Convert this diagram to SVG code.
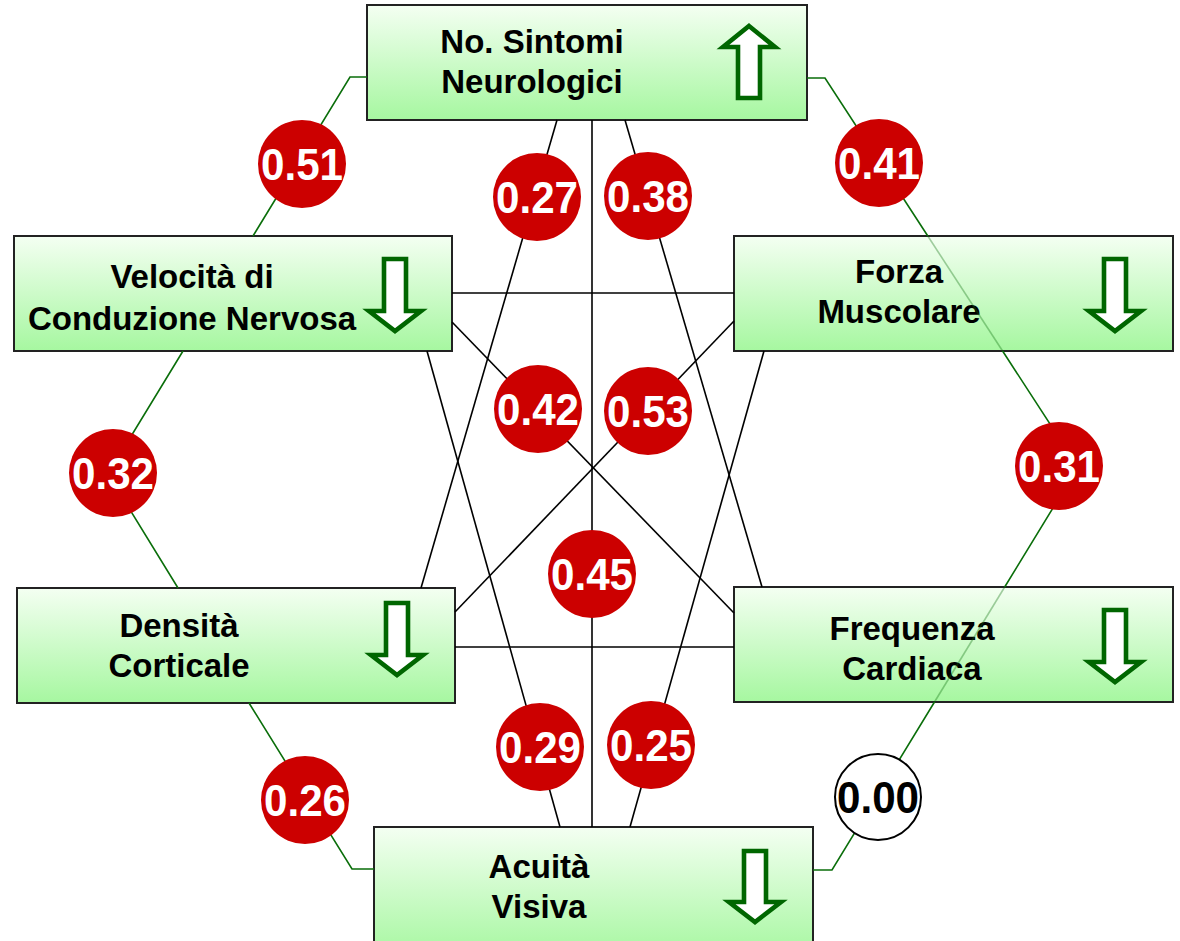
<svg xmlns="http://www.w3.org/2000/svg" width="1180" height="941" viewBox="0 0 1180 941">
<defs>
<linearGradient id="boxfill" x1="0" y1="0" x2="0" y2="1">
<stop offset="0" stop-color="#f4fff2"/>
<stop offset="1" stop-color="#a6f7a0"/>
</linearGradient>
<style>
.box{fill:url(#boxfill);stroke:#222;stroke-width:2}
.lbl{font-family:"Liberation Sans",Arial,sans-serif;font-weight:bold;font-size:33px;fill:#000;text-anchor:middle}
.arr{fill:#fff;stroke:#006600;stroke-width:4.6;stroke-linejoin:miter}
.g{fill:none;stroke:#0a6e0a;stroke-width:1.6}
.gf{fill:none;stroke:#0a6e0a;stroke-width:1.6;stroke-opacity:0.35}
.k{fill:none;stroke:#000;stroke-width:1.6}
.rc{fill:#cc0000}
.wc{fill:#fff;stroke:#000;stroke-width:2}
.num{font-family:"Liberation Sans",Arial,sans-serif;font-weight:bold;font-size:45px;fill:#fff;text-anchor:middle}
.numk{font-family:"Liberation Sans",Arial,sans-serif;font-weight:bold;font-size:45px;fill:#000;text-anchor:middle}
</style>
</defs>
<rect width="1180" height="941" fill="#fff"/>

<g id="node-sintomi">
<rect class="box" x="367" y="5" width="440" height="115"/>
<text class="lbl" x="532" y="53">No. Sintomi</text>
<text class="lbl" x="532" y="93">Neurologici</text>
<polygon class="arr" points="749,26 775,47 760,47 760,98 738,98 738,47 723,47"/>
</g>
<g id="node-velocita">
<rect class="box" x="14" y="236" width="438" height="115"/>
<text class="lbl" x="192" y="288">Velocità di</text>
<text class="lbl" x="192" y="330">Conduzione Nervosa</text>
<polygon class="arr" points="384,259 406,259 406,311 421,311 395,331 369,311 384,311"/>
</g>
<g id="node-forza">
<rect class="box" x="734" y="236" width="439" height="115"/>
<text class="lbl" x="899" y="283">Forza</text>
<text class="lbl" x="899" y="323">Muscolare</text>
<polygon class="arr" points="1104,259 1126,259 1126,311 1141,311 1115,331 1089,311 1104,311"/>
</g>
<g id="node-densita">
<rect class="box" x="17" y="588" width="438" height="115"/>
<text class="lbl" x="179" y="637">Densità</text>
<text class="lbl" x="179" y="677">Corticale</text>
<polygon class="arr" points="386,603 408,603 408,655 423,655 397,675 371,655 386,655"/>
</g>
<g id="node-frequenza">
<rect class="box" x="734" y="587" width="439" height="115"/>
<text class="lbl" x="912" y="640">Frequenza</text>
<text class="lbl" x="912" y="680">Cardiaca</text>
<polygon class="arr" points="1104,610 1126,610 1126,662 1141,662 1115,682 1089,662 1104,662"/>
</g>
<g id="node-acuita">
<rect class="box" x="374" y="827" width="439" height="130"/>
<text class="lbl" x="539" y="878">Acuità</text>
<text class="lbl" x="539" y="918">Visiva</text>
<polygon class="arr" points="744,851 766,851 766,902 781,902 755,922 729,902 744,902"/>
</g>

<g id="connectors">
<polyline class="g" points="367,77 350,77 253,236"/>
<polyline class="g" points="183,351 108,474 178,588"/>
<polyline class="g" points="249,703 352,869 374,869"/>
<polyline class="g" points="807,78 825,78 927.8,236"/>
<line class="gf" x1="927.8" y1="236" x2="1002.6" y2="351"/>
<polyline class="g" points="1002.6,351 1078,467 1004.7,587"/>
<line class="gf" x1="1004.7" y1="587" x2="934.5" y2="702"/>
<polyline class="g" points="934.5,702 832,870 813,870"/>
<line class="k" x1="557" y1="120" x2="421" y2="588"/>
<line class="k" x1="592" y1="120" x2="592" y2="827"/>
<line class="k" x1="625" y1="120" x2="762" y2="587"/>
<line class="k" x1="452" y1="293" x2="734" y2="293"/>
<line class="k" x1="452" y1="322" x2="734" y2="613"/>
<line class="k" x1="427" y1="351" x2="560" y2="827"/>
<line class="k" x1="734" y1="321" x2="455" y2="612"/>
<line class="k" x1="764" y1="351" x2="630" y2="827"/>
<line class="k" x1="455" y1="647" x2="734" y2="647"/>
</g>

<g id="weights">
<circle class="rc" cx="302" cy="164" r="44"/><text class="num" x="302" y="180" textLength="82" lengthAdjust="spacingAndGlyphs">0.51</text>
<circle class="rc" cx="537" cy="197" r="44"/><text class="num" x="537" y="213" textLength="82" lengthAdjust="spacingAndGlyphs">0.27</text>
<circle class="rc" cx="648" cy="196" r="44"/><text class="num" x="648" y="212" textLength="82" lengthAdjust="spacingAndGlyphs">0.38</text>
<circle class="rc" cx="879" cy="163" r="44"/><text class="num" x="879" y="179" textLength="82" lengthAdjust="spacingAndGlyphs">0.41</text>
<circle class="rc" cx="113" cy="473" r="44"/><text class="num" x="113" y="489" textLength="82" lengthAdjust="spacingAndGlyphs">0.32</text>
<circle class="rc" cx="538" cy="409" r="44"/><text class="num" x="538" y="425" textLength="82" lengthAdjust="spacingAndGlyphs">0.42</text>
<circle class="rc" cx="648" cy="411" r="44"/><text class="num" x="648" y="427" textLength="82" lengthAdjust="spacingAndGlyphs">0.53</text>
<circle class="rc" cx="1059" cy="466" r="44"/><text class="num" x="1059" y="482" textLength="82" lengthAdjust="spacingAndGlyphs">0.31</text>
<circle class="rc" cx="592" cy="574" r="44"/><text class="num" x="592" y="590" textLength="82" lengthAdjust="spacingAndGlyphs">0.45</text>
<circle class="rc" cx="540" cy="747" r="44"/><text class="num" x="540" y="763" textLength="82" lengthAdjust="spacingAndGlyphs">0.29</text>
<circle class="rc" cx="651" cy="745" r="44"/><text class="num" x="651" y="761" textLength="82" lengthAdjust="spacingAndGlyphs">0.25</text>
<circle class="rc" cx="305" cy="800" r="44"/><text class="num" x="305" y="816" textLength="82" lengthAdjust="spacingAndGlyphs">0.26</text>
<circle class="wc" cx="878" cy="797" r="43"/><text class="numk" x="878" y="813" textLength="82" lengthAdjust="spacingAndGlyphs">0.00</text>
</g>
</svg>
